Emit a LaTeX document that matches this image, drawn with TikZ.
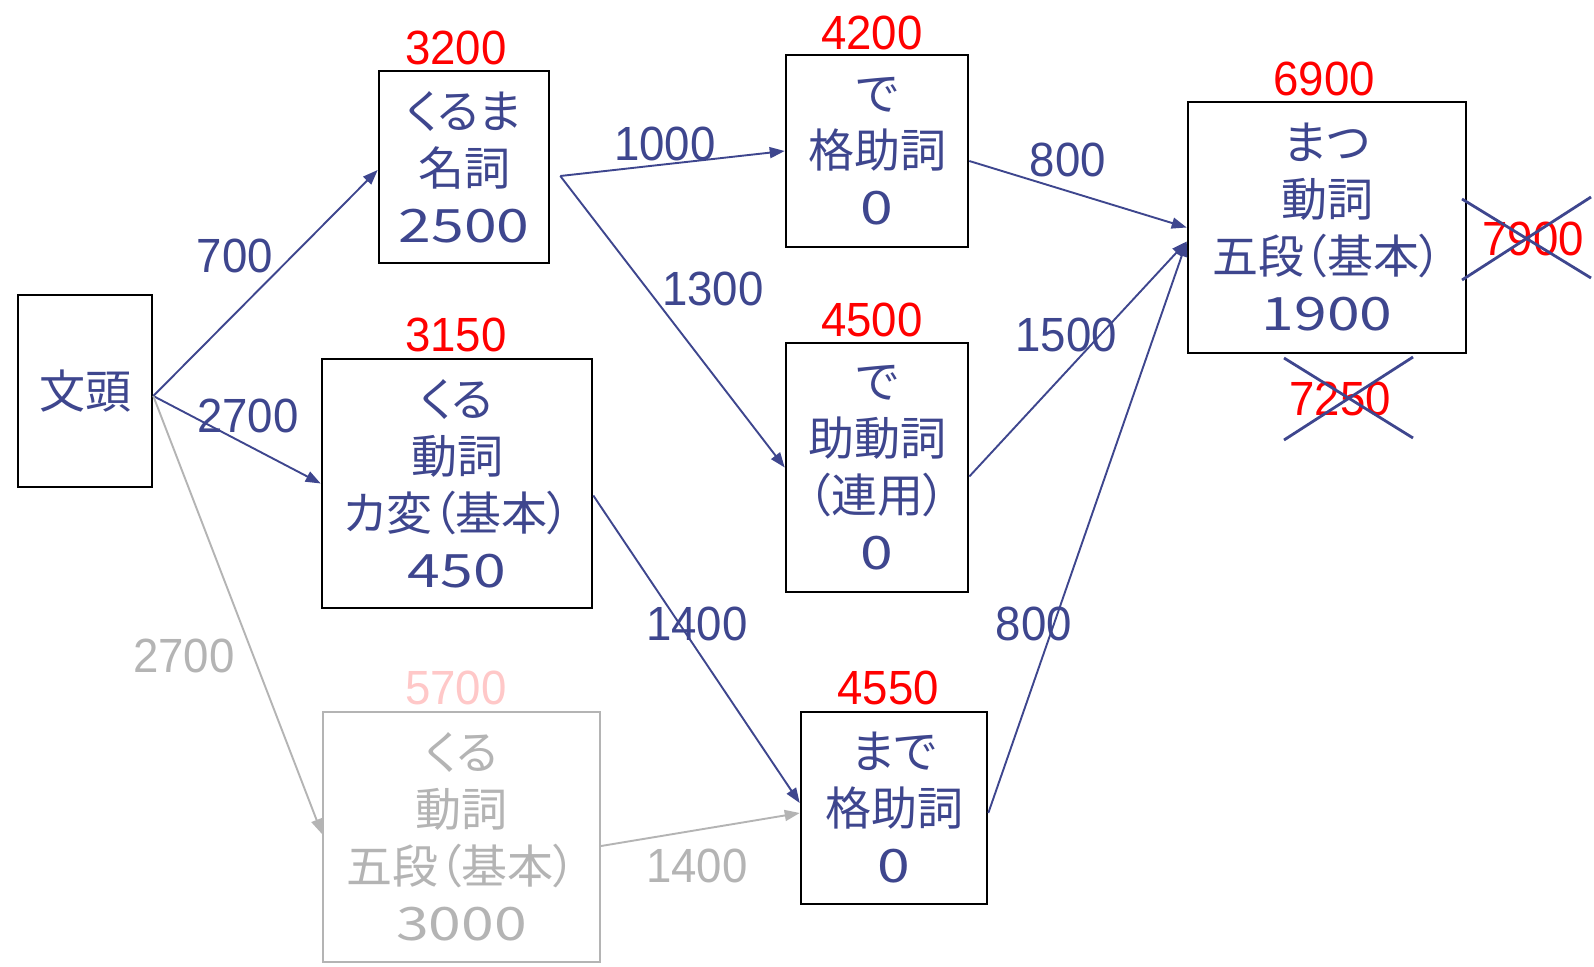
\documentclass[tikz,border=0pt]{standalone}
\usepackage{fontspec}
\usetikzlibrary{arrows.meta,calc}
\newfontfamily\jpf{Noto Sans CJK JP}[RawFeature=+palt]
\newfontfamily\bnumf{Noto Sans CJK JP}[FakeStretch=1.28]
\newfontfamily\numf{Liberation Sans}[FakeStretch=0.95]
\definecolor{navy}{RGB}{62,70,142}
\definecolor{lgrey}{RGB}{180,180,180}
\definecolor{lpink}{RGB}{255,200,200}
\tikzset{
 box/.style={draw=black, line width=2.6pt, inner sep=0pt, align=center, text=navy, font=\jpf\fontsize{46}{57}\selectfont},
 gbox/.style={box, draw=lgrey, line width=2pt, text=lgrey},
 cost/.style={inner sep=0pt, text=red, font=\numf\fontsize{48}{50}\selectfont},
 elab/.style={inner sep=0pt, text=navy, font=\numf\fontsize{48}{50}\selectfont},
 edge/.style={draw=navy, line width=1.9pt, -{Triangle[length=15pt,width=11pt]}},
 gedge/.style={edge, draw=lgrey},
 cross/.style={draw=navy, line width=2.8pt},
}
\begin{document}
\begin{tikzpicture}[x=1pt,y=-1pt]
\fill[white] (0,0) rectangle (1594,966);
\useasboundingbox (0,0) rectangle (1594,966);

% boxes
\node[box, minimum width=134pt, minimum height=192pt] (bunto) at (85,391) {文頭};
\node[box, minimum width=170pt, minimum height=192pt] (kuruma) at (464,167) {くるま\\名詞\\{\bnumf 2500}};
\node[box, minimum width=270pt, minimum height=249pt] (kahen) at (457,483.5) {くる\\動詞\\カ変（基本）\\{\bnumf 450}};
\node[gbox, minimum width=277pt, minimum height=250pt] (godan) at (461.5,837) {くる\\動詞\\五段（基本）\\{\bnumf 3000}};
\node[box, minimum width=182pt, minimum height=192pt] (dekaku) at (877,151) {で\\格助詞\\{\bnumf 0}};
\node[box, minimum width=182pt, minimum height=249pt] (dejodo) at (877,467.5) {で\\助動詞\\（連用）\\{\bnumf 0}};
\node[box, minimum width=186pt, minimum height=192pt] (made) at (894,808) {まで\\格助詞\\{\bnumf 0}};
\node[box, minimum width=278pt, minimum height=251pt] (matsu) at (1327,227.5) {まつ\\動詞\\五段（基本）\\{\bnumf 1900}};

% cumulative costs
\node[cost] (c1) at (456,48) {3200};
\node[cost] (c2) at (456,335) {3150};
\node[cost, text=lpink] (c3) at (456,688) {5700};
\node[cost] (c4) at (872,33) {4200};
\node[cost] (c5) at (872,320) {4500};
\node[cost] (c6) at (888,688) {4550};
\node[cost] (c7) at (1324,79) {6900};
\node[cost] (c8) at (1533,239) {7900};
\node[cost] (c9) at (1340,399) {7250};

% edges
\draw[edge] ($(bunto.east)+(0,5)$) -- ($(kuruma.west)+(0,3)$);
\draw[edge] ($(bunto.east)+(0,5)$) -- (kahen.west);
\draw[gedge] ($(bunto.east)+(0,5)$) -- ($(godan.west)+(0,-3)$);
\draw[edge] ($(kuruma.east)+(10,9)$) -- (dekaku.west);
\draw[edge] ($(kuruma.east)+(10,9)$) -- (dejodo.west);
\draw[edge] ($(kahen.east)+(0,12)$) -- ($(made.west)+(0,-5)$);
\draw[gedge] ($(godan.east)+(0,9)$) -- ($(made.west)+(0,5)$);
\draw[edge] ($(dekaku.east)+(0,10)$) -- (matsu.west);
\draw[edge] ($(dejodo.east)+(0,9)$) -- ($(matsu.west)+(0,14)$);
\draw[edge] ($(made.east)+(0,5)$) -- ($(matsu.west)+(0,14)$);

% edge labels
\node[elab] (l1) at (235,256) {700};
\node[elab] (l2) at (248,416) {2700};
\node[elab, text=lgrey] (l3) at (184,656) {2700};
\node[elab] (l4) at (665,144) {1000};
\node[elab] (l5) at (713,289) {1300};
\node[elab] (l6) at (697,624) {1400};
\node[elab, text=lgrey] (l7) at (697,866) {1400};
\node[elab] (l8) at (1068,160) {800};
\node[elab] (l9) at (1066,335) {1500};
\node[elab] (l10) at (1034,624) {800};

% crosses
\draw[cross] (1462,199) -- (1591,278);
\draw[cross] (1462,280) -- (1591,197);
\draw[cross] (1284,358) -- (1413,438);
\draw[cross] (1284,440) -- (1413,357);
\end{tikzpicture}
\end{document}
